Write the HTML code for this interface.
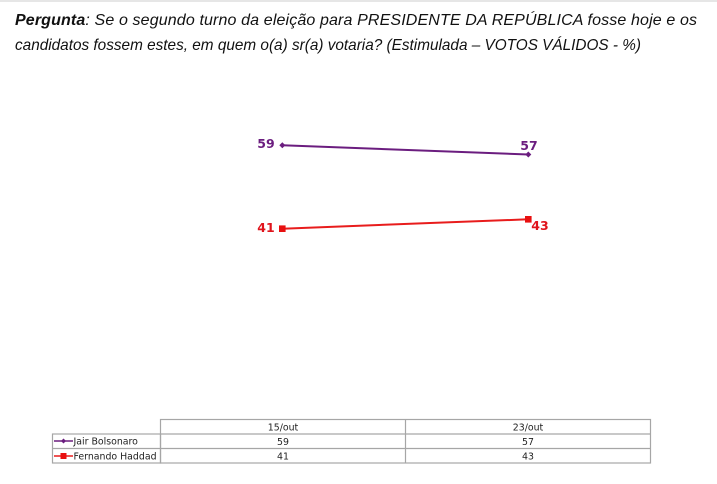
<!DOCTYPE html>
<html><head><meta charset="utf-8"><style>
html,body{margin:0;padding:0;background:#fff;}
body{width:717px;height:484px;position:relative;overflow:hidden;}
</style></head><body>
<svg width="717" height="484" viewBox="0 0 717 484" xmlns="http://www.w3.org/2000/svg" style="position:absolute;left:0;top:0">
<rect x="0" y="0" width="717" height="484" fill="#ffffff"/>
<rect x="0" y="0" width="717" height="2" fill="#e6e6e6"/>
<g font-family="Liberation Sans, sans-serif" font-size="16" font-style="italic" fill="#111">
<text x="15" y="25" textLength="682" lengthAdjust="spacing"><tspan font-weight="bold">Pergunta</tspan>: Se o segundo turno da eleição para PRESIDENTE DA REPÚBLICA fosse hoje e os</text>
<text x="15" y="50" textLength="626" lengthAdjust="spacingAndGlyphs">candidatos fossem estes, em quem o(a) sr(a) votaria? (Estimulada – VOTOS VÁLIDOS - %)</text>
</g>
<!-- series -->
<line x1="282.3" y1="145.3" x2="528.3" y2="154.5" stroke="#6b1d7f" stroke-width="2"/>
<path d="M282.3 142.3 L285.3 145.3 L282.3 148.3 L279.3 145.3 Z" fill="#6b1d7f"/>
<path d="M528.3 151.5 L531.3 154.5 L528.3 157.5 L525.3 154.5 Z" fill="#6b1d7f"/>
<line x1="282.3" y1="228.7" x2="528.3" y2="219.3" stroke="#e81c1c" stroke-width="2"/>
<rect x="279" y="225.4" width="6.6" height="6.6" fill="#e81010"/>
<rect x="525" y="216" width="6.6" height="6.6" fill="#e81010"/>
<g font-family="DejaVu Sans, Verdana, sans-serif" font-size="12.5" font-weight="bold">
<text x="266" y="148" text-anchor="middle" fill="#6b1d7f">59</text>
<text x="529" y="150" text-anchor="middle" fill="#6b1d7f">57</text>
<text x="266" y="232" text-anchor="middle" fill="#e0141c">41</text>
<text x="540" y="230" text-anchor="middle" fill="#e0141c">43</text>
</g>
<!-- table -->
<g stroke="#a6a6a6" stroke-width="1.2" fill="none">
<rect x="160.5" y="419.5" width="490" height="43.5"/>
<rect x="52.5" y="434" width="108" height="29"/>
<line x1="52.5" y1="448.5" x2="650.5" y2="448.5"/>
<line x1="160.5" y1="434" x2="650.5" y2="434"/>
<line x1="405.5" y1="419.5" x2="405.5" y2="463"/>
</g>
<g font-family="DejaVu Sans, Verdana, sans-serif" font-size="9.4" fill="#222" text-anchor="middle">
<text x="283" y="430.5">15/out</text>
<text x="528" y="430.5">23/out</text>
<text x="283" y="445">59</text>
<text x="528" y="445">57</text>
<text x="283" y="459.5">41</text>
<text x="528" y="459.5">43</text>
</g>
<line x1="54" y1="441" x2="73" y2="441" stroke="#6b1d7f" stroke-width="1.5"/>
<path d="M63.5 438.5 L66 441 L63.5 443.5 L61 441 Z" fill="#6b1d7f"/>
<line x1="54" y1="456" x2="73" y2="456" stroke="#e81c1c" stroke-width="1.5"/>
<rect x="60.5" y="453" width="6" height="6" fill="#e81010"/>
<g font-family="DejaVu Sans, Verdana, sans-serif" font-size="9.4" fill="#222">
<text x="73.5" y="444.5">Jair Bolsonaro</text>
<text x="73.5" y="459.5">Fernando Haddad</text>
</g>
</svg>
</body></html>
